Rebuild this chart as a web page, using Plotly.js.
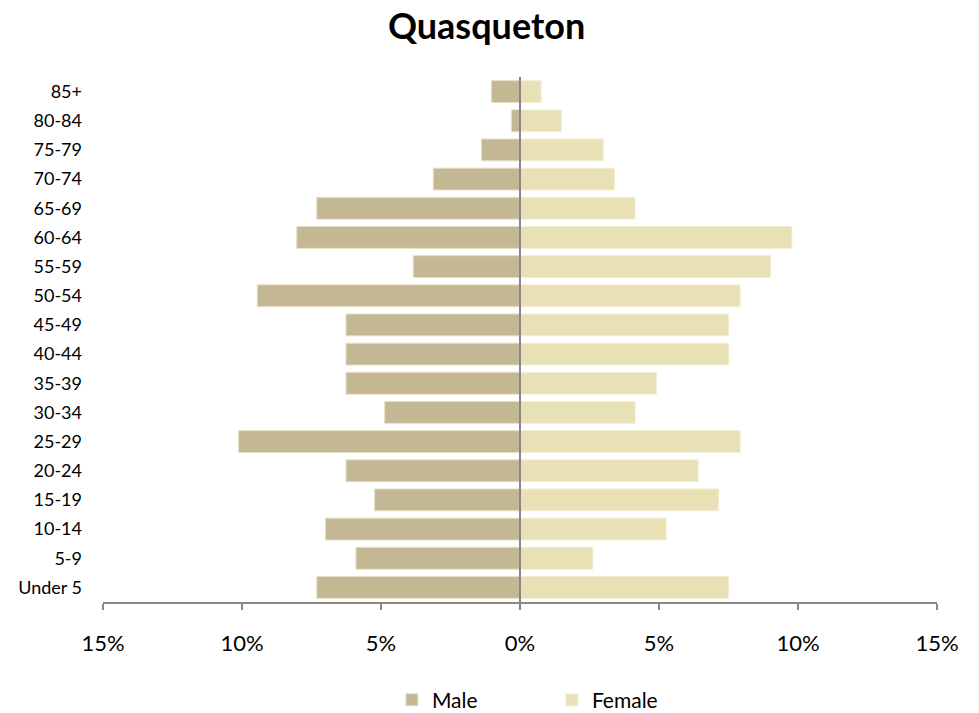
<!DOCTYPE html>
<html>
<head>
<meta charset="utf-8">
<script src="https://cdn.plot.ly/plotly-3.0.1.min.js"></script>
<style>html,body{margin:0;padding:0;background:#fff;}#chart{width:979px;height:713px;}</style>
</head>
<body>
<div id="chart"></div>
<script>
const ageGroups = ["Under 5","5-9","10-14","15-19","20-24","25-29","30-34","35-39","40-44","45-49","50-54","55-59","60-64","65-69","70-74","75-79","80-84","85+"];
const malePct = [7.31, 5.9, 7.0, 5.23, 6.26, 10.12, 4.87, 6.26, 6.26, 6.26, 9.45, 3.84, 8.03, 7.31, 3.12, 1.39, 0.31, 1.03];
const femalePct = [7.51, 2.62, 5.26, 7.15, 6.41, 7.92, 4.14, 4.91, 7.51, 7.51, 7.92, 9.01, 9.78, 4.14, 3.4, 3.0, 1.49, 0.76];
const tickVals = [-15, -10, -5, 0, 5, 10, 15];
const tickText = ["15%", "10%", "5%", "0%", "5%", "10%", "15%"];

const font = "Lato, 'Open Sans', sans-serif";

const traces = [
  {
    type: "bar", orientation: "h", name: "Male",
    y: ageGroups, x: malePct.map(v => -v),
    marker: {color: "#C4B794", line: {color: "#E6DFC8", width: 1}},
    hoverinfo: "skip"
  },
  {
    type: "bar", orientation: "h", name: "Female",
    y: ageGroups, x: femalePct,
    marker: {color: "#E8E1B6", line: {color: "#F3EFD6", width: 1}},
    hoverinfo: "skip"
  }
];

const layout = {
  width: 979, height: 713,
  margin: {l: 103, r: 42, t: 77, b: 111, autoexpand: false},
  paper_bgcolor: "#fff", plot_bgcolor: "#fff",
  barmode: "relative", bargap: 0.25,
  font: {family: font, color: "#000"},
  title: {text: "<b>Quasqueton</b>", font: {family: font, size: 36, color: "#000"}, x: 0.497, xref: "container", xanchor: "center", y: 0.963, yref: "container", yanchor: "middle"},
  xaxis: {
    range: [-15, 15], tickvals: tickVals, ticktext: tickText,
    showgrid: false, zeroline: false,
    showline: true, linecolor: "#888", linewidth: 1.5,
    ticks: "outside", ticklen: 6, tickcolor: "#888", tickwidth: 1.5,
    tickfont: {family: font, size: 22, color: "#000"}, ticklabelstandoff: 15,
    fixedrange: true, automargin: false
  },
  yaxis: {
    type: "category", showgrid: false, zeroline: false, showline: false, ticks: "",
    tickfont: {family: font, size: 18, color: "#000"}, ticklabelstandoff: 20,
    fixedrange: true, automargin: false
  },
  shapes: [
    {type: "line", xref: "x", yref: "paper", x0: 0, x1: 0, y0: 0, y1: 1, layer: "above", line: {color: "#888", width: 2}}
  ],
  legend: {
    orientation: "h", x: 0.3464, xanchor: "left", y: -0.187, yanchor: "middle",
    font: {family: font, size: 21, color: "#000"}, entrywidth: 115, traceorder: "normal"
  },
  showlegend: true
};

Plotly.newPlot("chart", traces, layout, {displayModeBar: false, staticPlot: true});
</script>
</body>
</html>
